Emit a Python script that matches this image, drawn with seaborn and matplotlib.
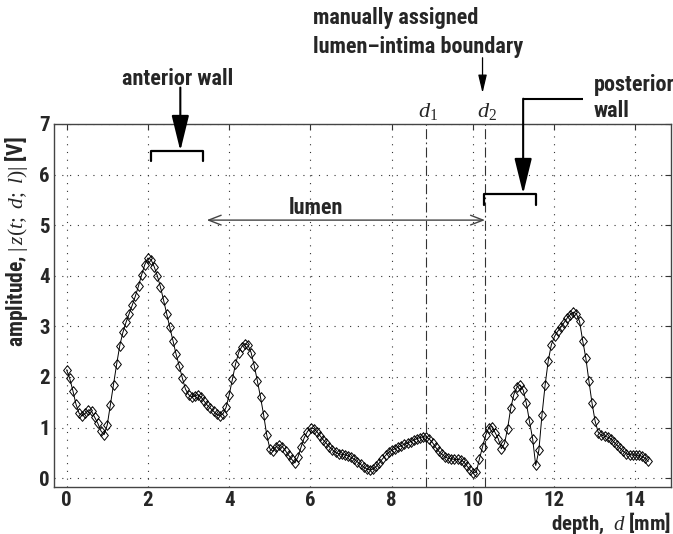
import os
import numpy as np
import pandas as pd
import matplotlib
matplotlib.use("Agg")
import matplotlib.pyplot as plt
from matplotlib import font_manager
import seaborn as sns

# Echo amplitude sampled along depth (10 MHz sampling, c = 1540 m/s -> 0.077 mm per sample)
sample_step_mm = 0.077
amplitude_v = [
    2.14, 1.97, 1.73, 1.46, 1.28, 1.23, 1.28, 1.35, 1.32, 1.20,
    1.08, 0.93, 0.86, 1.05, 1.45, 1.85, 2.25, 2.62, 2.88, 3.08,
    3.25, 3.42, 3.60, 3.80, 4.02, 4.22, 4.35, 4.32, 4.18, 4.00,
    3.78, 3.52, 3.25, 2.98, 2.72, 2.45, 2.22, 1.98, 1.76, 1.65,
    1.60, 1.62, 1.65, 1.60, 1.52, 1.44, 1.38, 1.32, 1.26, 1.23,
    1.27, 1.40, 1.65, 1.95, 2.25, 2.48, 2.60, 2.66, 2.63, 2.48,
    2.22, 1.92, 1.60, 1.25, 0.85, 0.58, 0.53, 0.62, 0.66, 0.62,
    0.54, 0.45, 0.37, 0.30, 0.42, 0.62, 0.80, 0.92, 0.99, 0.98,
    0.92, 0.84, 0.76, 0.69, 0.62, 0.56, 0.51, 0.48, 0.47, 0.46,
    0.44, 0.41, 0.37, 0.32, 0.27, 0.22, 0.18, 0.16, 0.18, 0.23,
    0.30, 0.38, 0.45, 0.51, 0.55, 0.58, 0.61, 0.64, 0.67, 0.69,
    0.72, 0.75, 0.78, 0.80, 0.82, 0.81, 0.77, 0.70, 0.61, 0.53,
    0.47, 0.42, 0.39, 0.38, 0.37, 0.37, 0.36, 0.32, 0.24, 0.16,
    0.10, 0.12, 0.38, 0.62, 0.85, 1.00, 1.02, 0.90, 0.78, 0.58,
    0.68, 0.98, 1.38, 1.65, 1.80, 1.84, 1.74, 1.48, 1.12, 0.78,
    0.25, 0.55, 1.25, 1.84, 2.32, 2.64, 2.80, 2.90, 2.98, 3.07,
    3.16, 3.23, 3.28, 3.25, 3.10, 2.72, 2.38, 1.92, 1.48, 1.12,
    0.90, 0.85, 0.83, 0.81, 0.78, 0.71, 0.65, 0.59, 0.53, 0.48,
    0.46, 0.46, 0.46, 0.45, 0.43, 0.39, 0.33,
]
depth_mm = np.arange(len(amplitude_v)) * sample_step_mm

x_ticks = [0, 2, 4, 6, 8, 10, 12, 14]
y_ticks = [0, 1, 2, 3, 4, 5, 6, 7]

# marker depths
d1_mm = 8.85
d2_mm = 10.30
anterior_range = (2.07, 3.36)
posterior_range = (10.28, 11.56)


def bold_narrow_font():
    """File of a bold, upright, narrow sans face (first available of a short list)."""
    wanted = ["Roboto Condensed", "Liberation Sans Narrow", "PT Sans Narrow",
              "Barlow Semi Condensed", "Liberation Sans"]
    entries = font_manager.fontManager.ttflist
    for fam in wanted:
        for f in entries:
            base = os.path.basename(f.fname).lower()
            if f.name != fam or "italic" in base or "oblique" in base:
                continue
            try:
                w = int(f.weight)
            except (TypeError, ValueError):
                continue
            if w == 700:
                return f.fname
    return font_manager.findfont(
        font_manager.FontProperties(family="DejaVu Sans", weight="bold"))


font_file = bold_narrow_font()


def fp(size):
    return font_manager.FontProperties(fname=font_file, size=size)


sns.set_theme(style="white")
plt.rcParams["font.family"] = ["Liberation Sans", "DejaVu Sans"]
plt.rcParams["font.weight"] = "normal"
plt.rcParams["mathtext.fontset"] = "custom"
plt.rcParams["mathtext.rm"] = "Liberation Serif"
plt.rcParams["mathtext.it"] = "Liberation Serif:italic"
plt.rcParams["mathtext.bf"] = "Liberation Serif:bold"

W, H = 673, 534
fig = plt.figure(figsize=(W / 100, H / 100), dpi=100)
ax = fig.add_axes([54 / W, 1 - 486.7 / H, (671 - 54) / W, (486.7 - 124) / H])

df = pd.DataFrame({"depth": depth_mm, "amplitude": amplitude_v})
diamond = [(0, 1), (0.8, 0), (0, -1), (-0.8, 0), (0, 1)]
sns.lineplot(data=df, x="depth", y="amplitude", ax=ax, color="black",
             linewidth=0.7, marker=diamond, markersize=7.0,
             markerfacecolor="none", markeredgecolor="black",
             markeredgewidth=0.7, errorbar=None, zorder=5)

ax.set_xlim(-0.31, 14.88)
ax.set_ylim(-0.17, 7.0)
ax.set_xticks(x_ticks)
ax.set_yticks(y_ticks)
ax.set_xlabel("")
ax.set_ylabel("")
ax.grid(True, color="#333333", linestyle=(0, (1, 6)), linewidth=0.8)
ax.set_axisbelow(True)
ax.tick_params(direction="in", length=4, width=0.8, top=True, right=True,
               pad=3, color="#333333")
for lab in ax.get_xticklabels() + ax.get_yticklabels():
    lab.set_fontproperties(fp(15))
for sp in ax.spines.values():
    sp.set_color("#444444")
    sp.set_linewidth(1.0)

# d1 / d2 dash-dot markers
for xv, name in [(d1_mm, r"$d_{\mathit{1}}$"), (d2_mm, r"$d_{\mathit{2}}$")]:
    ax.axvline(xv, color="#333333", linewidth=0.8,
               linestyle=(0, (9, 3, 1.5, 3)), zorder=2)
    ax.text(xv + 0.05, 7.14, name, ha="center", va="baseline", fontsize=16,
            clip_on=False)

# wall brackets
ax.plot([anterior_range[0], anterior_range[0], anterior_range[1], anterior_range[1]],
        [6.26, 6.47, 6.47, 6.26], color="black", linewidth=1.6, zorder=6)
ax.plot([posterior_range[0], posterior_range[0], posterior_range[1], posterior_range[1]],
        [5.40, 5.62, 5.62, 5.40], color="black", linewidth=1.6, zorder=6)

big_head = dict(arrowstyle="-|>,head_length=22,head_width=5.4", mutation_scale=1,
                color="black", linewidth=1.5, shrinkA=0, shrinkB=0)

# anterior wall
ax.text(2.74, 7.78, "anterior wall", ha="center", va="baseline",
        fontproperties=fp(16), clip_on=False)
ax.annotate("", xy=(2.80, 6.47), xytext=(2.80, 7.72), arrowprops=big_head,
            annotation_clip=False)

# posterior wall
ax.text(12.97, 7.65, "posterior", ha="left", va="baseline",
        fontproperties=fp(16), clip_on=False)
ax.text(12.97, 7.14, "wall", ha="left", va="baseline",
        fontproperties=fp(16), clip_on=False)
ax.plot([12.72, 11.24], [7.50, 7.50], color="black", linewidth=1.5,
        clip_on=False, solid_capstyle="butt")
ax.annotate("", xy=(11.24, 5.62), xytext=(11.24, 7.50), arrowprops=big_head,
            annotation_clip=False)

# lumen span
ax.annotate("", xy=(3.45, 5.10), xytext=(d2_mm, 5.10),
            arrowprops=dict(arrowstyle="<->,head_length=9,head_width=3.5",
                            mutation_scale=1, color="#444444", linewidth=1.0,
                            shrinkA=0, shrinkB=0))
ax.text(6.14, 5.22, "lumen", ha="center", va="baseline", fontproperties=fp(16))

# manually assigned boundary
ax.text(6.07, 8.98, "manually assigned", ha="left", va="baseline",
        fontproperties=fp(16), clip_on=False)
ax.text(6.07, 8.41, "lumen\u2013intima boundary", ha="left", va="baseline",
        fontproperties=fp(16), clip_on=False)
ax.annotate("", xy=(10.24, 7.61), xytext=(10.24, 8.31),
            arrowprops=dict(arrowstyle="-|>,head_length=11,head_width=2.6",
                            mutation_scale=1, color="black", linewidth=0.9,
                            shrinkA=0, shrinkB=0),
            annotation_clip=False)

# axis labels
fig.text(671 / W, 1 - 529.5 / H, r"depth,  $d$ [mm]", ha="right", va="baseline",
         fontproperties=fp(15))
fig.text(17 / W, 1 - 242 / H, r"amplitude, $|\,z(t;\ d;\ l)|$ [V]", ha="center",
         va="center", rotation=90, fontproperties=fp(15.5))

fig.savefig("out.png", dpi=100)
